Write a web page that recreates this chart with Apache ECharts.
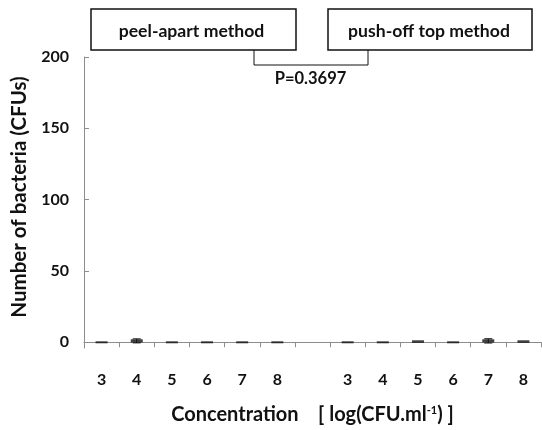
<!DOCTYPE html>
<html><head><meta charset="utf-8">
<script src="https://cdn.jsdelivr.net/npm/echarts@6/dist/echarts.min.js"></script>
<style>html,body{margin:0;padding:0;background:#fff}#c{width:542px;height:430px}</style>
</head><body><div id="c"></div>
<script>
const leftCats = ['3','4','5','6','7','8'];
const rightCats = ['3','4','5','6','7','8'];
const categories = [...leftCats, '', ...rightCats];
const peelMean = [0, 1, 0, 0, 0, 0];
const peelErr  = [0, 1.4, 0, 0, 0, 0];
const pushMean = [0, 0, 0.5, 0, 1, 0.5];
const pushErr  = [0, 0, 0, 0, 1.5, 0];
const yTicks = [0, 50, 100, 150, 200];
const groupNames = ['peel-apart method', 'push-off top method'];
const pText = 'P=0.3697';

const FONT = 'Lato';
const meanData = [], errData = [];
peelMean.forEach((v,i)=>{ meanData.push([i, v]); errData.push([i, v, peelErr[i]]); });
pushMean.forEach((v,i)=>{ const x = i + leftCats.length + 1; meanData.push([x, v]); errData.push([x, v, pushErr[i]]); });

const chart = echarts.init(document.getElementById('c'));
chart.setOption({
  animation: false,
  grid: { left: 84, right: 1, top: 57, bottom: 79 },
  xAxis: {
    type: 'category', data: categories,
    axisLine: { lineStyle: { color: '#8c8c8c', width: 1 } },
    axisTick: { show: true, interval: 0, length: 5, lineStyle: { color: '#8c8c8c' } },
    axisLabel: { interval: 0, margin: 24, color: '#111', fontFamily: FONT, fontWeight: 'bold', fontSize: 16 },
    name: '{a|Concentration    [ log(CFU.ml}{s|-1}{a|) ]}',
    nameLocation: 'middle', nameGap: 57,
    nameTextStyle: { rich: { a: { fontFamily: FONT, fontWeight: 'bold', fontSize: 20, color: '#111' }, s: { fontFamily: FONT, fontWeight: 'bold', fontSize: 11, color: '#111', verticalAlign: 'top', padding: [0,0,9,0] } } }
  },
  yAxis: {
    type: 'value', min: -4, max: 200,
    splitLine: { show: false },
    axisLine: { show: true, lineStyle: { color: '#8c8c8c', width: 1 } },
    axisTick: { show: true, inside: true, length: 5, customValues: yTicks, lineStyle: { color: '#8c8c8c' } },
    axisLabel: { customValues: yTicks, margin: 15, color: '#111', fontFamily: FONT, fontWeight: 'bold', fontSize: 16 },
    name: 'Number of bacteria (CFUs)', nameLocation: 'middle', nameGap: 53, nameRotate: 90,
    nameTextStyle: { fontFamily: FONT, fontWeight: 'bold', fontSize: 20.5, color: '#111', padding: [0, 0, 0, 11] }
  },
  series: [
    {
      type: 'custom', data: errData, z: 3,
      renderItem: function(params, api) {
        const x = api.value(0), m = api.value(1), e = api.value(2);
        if (!e) return null;
        const top = api.coord([x, m + e]), bot = api.coord([x, m - e]);
        const hw = 4;
        const st = { stroke: '#111', lineWidth: 1 };
        return { type: 'group', children: [
          { type: 'line', shape: { x1: top[0], y1: top[1], x2: bot[0], y2: bot[1] }, style: st },
          { type: 'line', shape: { x1: top[0]-hw, y1: top[1], x2: top[0]+hw, y2: top[1] }, style: st },
          { type: 'line', shape: { x1: bot[0]-hw, y1: bot[1], x2: bot[0]+hw, y2: bot[1] }, style: st }
        ]};
      }
    },
    {
      type: 'scatter', data: meanData, z: 4,
      symbol: 'rect',
      symbolSize: function(v) { return [12, 2 + v[1] * 1.2]; },
      itemStyle: { color: '#111' }
    }
  ],
  graphic: [
    { type: 'rect', shape: { x: 91, y: 9, width: 205, height: 41 }, style: { fill: '#fff', stroke: '#111', lineWidth: 1.5 } },
    { type: 'text', x: 191.5, y: 31.5, style: { text: groupNames[0], fill: '#111', font: 'bold 17.6px ' + FONT, align: 'center', verticalAlign: 'middle' } },
    { type: 'rect', shape: { x: 328, y: 9, width: 204, height: 41 }, style: { fill: '#fff', stroke: '#111', lineWidth: 1.5 } },
    { type: 'text', x: 429, y: 31.5, style: { text: groupNames[1], fill: '#111', font: 'bold 17.6px ' + FONT, align: 'center', verticalAlign: 'middle' } },
    { type: 'polyline', shape: { points: [[254, 50], [254, 65], [368, 65], [368, 50]] }, style: { fill: null, stroke: '#111', lineWidth: 1 } },
    { type: 'text', x: 310.5, y: 79, style: { text: pText, fill: '#111', font: 'bold 16.5px ' + FONT, align: 'center', verticalAlign: 'middle' } }
  ]
});
</script></body></html>
